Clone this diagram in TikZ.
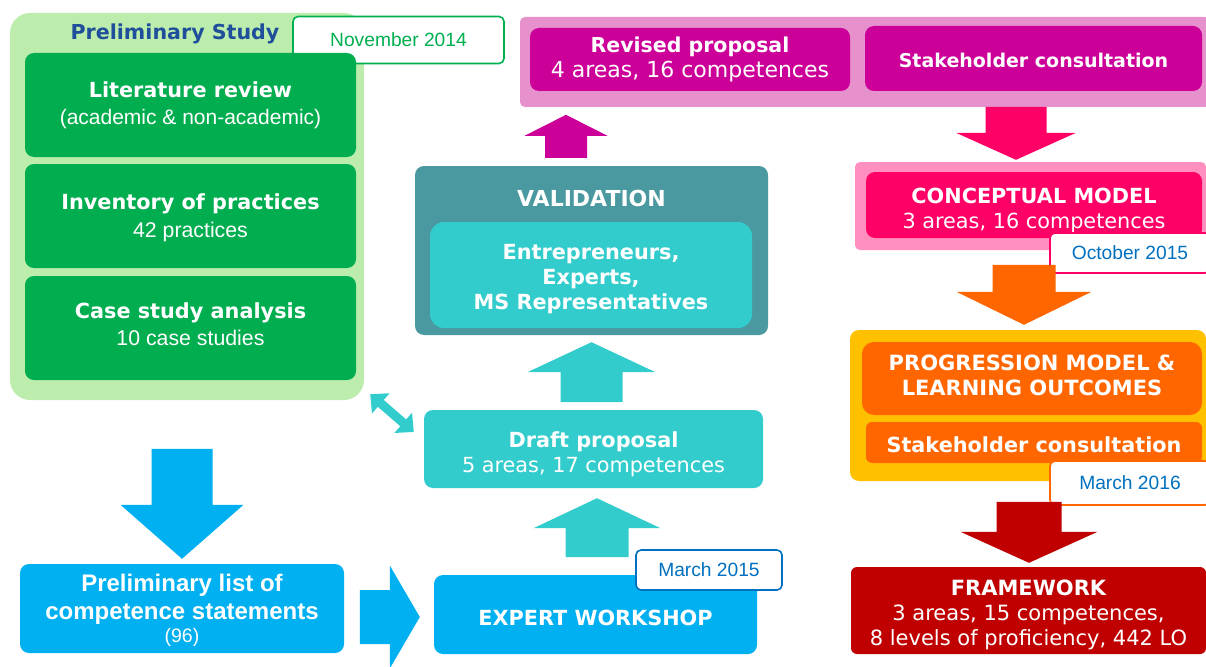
\documentclass[tikz,border=0pt]{standalone}
\usepackage{fontspec}
\setmainfont{DejaVu Sans}
\newfontfamily\arialfont{Liberation Sans}
\usetikzlibrary{calc,arrows.meta}
\definecolor{prelimbg}{HTML}{BDEDAD}
\definecolor{studygreen}{HTML}{00AD4F}
\definecolor{titleblue}{HTML}{1F4E9A}
\definecolor{listblue}{HTML}{00B0F0}
\definecolor{draftteal}{HTML}{33CCCC}
\definecolor{validgray}{HTML}{4A99A0}
\definecolor{revisedbg}{HTML}{E690CC}
\definecolor{revisedmag}{HTML}{CC0099}
\definecolor{conceptbg}{HTML}{FF8FBF}
\definecolor{conceptpink}{HTML}{FF0066}
\definecolor{progorange}{HTML}{FF6600}
\definecolor{progyellow}{HTML}{FFC000}
\definecolor{frameworkred}{HTML}{C00000}
\definecolor{dateblue}{HTML}{0070C0}
\definecolor{dategreen}{HTML}{00B050}
\newcommand{\dropline}[1]{\rule{0pt}{#1}}

\begin{document}
\begin{tikzpicture}[
  x=1pt,
  y=-1pt,
  line join=round,
  panel/.style={rounded corners=9pt,inner sep=0pt,align=center,text=white,
    font=\fontsize{20.8}{25}\selectfont},
  droptext/.style={execute at begin node={\rule{0pt}{#1}}},
  liftext/.style={execute at end node={\rule[-#1]{0pt}{#1}}},
  datebox/.style={fill=white,line width=1.6pt,rounded corners=5pt,inner sep=0pt,
    font=\arialfont\fontsize{19.2}{22}\selectfont},
  twoway/.style={draw=draftteal,line width=9pt,
    {Triangle[length=14pt,width=26pt]}-{Triangle[length=14pt,width=26pt]}}
]
  \newcommand{\drawblockarrow}[7]{%
    \fill[#1,shift={#2},rotate=#3] (0,0) -- (-#5,#7) -- (-#5,#6) -- (-#4,#6)
      -- (-#4,-#6) -- (-#5,-#6) -- (-#5,-#7) -- cycle;
  }
  \useasboundingbox (0,0) rectangle (1206,666);

  % Preliminary study column.
  \node[panel,fill=prelimbg,rounded corners=20pt,minimum width=354pt,minimum height=387pt] (prelim) at (187,206.5) {};
  \node[text=titleblue,font=\fontsize{20.6}{24}\selectfont\bfseries] (prelimtitle) at (175,34) {Preliminary Study};
  \node[datebox,draw=dategreen,text=dategreen,minimum width=211pt,minimum height=47pt] (nov) at (398.5,40) {November 2014};
  \node[panel,fill=studygreen,minimum width=331pt,minimum height=104pt,font=\fontsize{20.8}{27}\selectfont] (lit) at (190.5,105)
    {{\bfseries Literature review}\\{\arialfont\fontsize{21}{27}\selectfont (academic \& non-academic)}};
  \node[panel,fill=studygreen,minimum width=331pt,minimum height=104pt,font=\fontsize{20.8}{28}\selectfont] (inv) at (190.5,216)
    {{\dropline{19pt}\bfseries Inventory of practices}\\{\arialfont\fontsize{21.3}{28}\selectfont 42 practices}};
  \node[panel,fill=studygreen,liftext=8pt,minimum width=331pt,minimum height=104pt,font=\fontsize{20.8}{27}\selectfont] (case) at (190.5,328)
    {{\bfseries Case study analysis}\\{\arialfont\fontsize{21.3}{27}\selectfont 10 case studies}};

  % Bottom row.
  \node[panel,fill=listblue,minimum width=324pt,minimum height=89pt,font=\arialfont\fontsize{24}{28}\selectfont\bfseries] (list) at (182,608.5)
    {\dropline{22pt}Preliminary list of\\competence statements\\[-5pt]{\mdseries\fontsize{19.5}{20}\selectfont (96)}};
  \node[panel,fill=listblue,droptext=23pt,minimum width=323pt,minimum height=79pt,font=\fontsize{20.8}{25}\selectfont\bfseries] (expert) at (595.5,614.5) {EXPERT WORKSHOP};
  \node[datebox,draw=dateblue,text=dateblue,minimum width=146pt,minimum height=40pt] (mar15) at (709,570) {March 2015};

  % Middle column.
  \node[panel,fill=draftteal,minimum width=339pt,minimum height=78pt] (draft) at (593.5,449)
    {{\dropline{26pt}\bfseries Draft proposal}\\5 areas, 17 competences};
  \node[panel,fill=validgray,minimum width=353pt,minimum height=169pt] (valout) at (591.5,250.5) {};
  \node[text=white,font=\fontsize{22}{26}\selectfont\bfseries] (valtitle) at (591.5,198) {VALIDATION};
  \node[panel,fill=draftteal,rounded corners=14pt,minimum width=322pt,minimum height=106pt,font=\fontsize{20.8}{25}\selectfont\bfseries] (valin) at (591,275)
    {\dropline{23pt}Entrepreneurs,\\Experts,\\MS Representatives};

  % Top band.
  \node[panel,fill=revisedbg,rounded corners=5pt,minimum width=690pt,minimum height=90pt] (band) at (865,62) {};
  \node[panel,fill=revisedmag,minimum width=320pt,minimum height=63pt,font=\fontsize{20.5}{25}\selectfont] (revised) at (690,59.5)
    {{\bfseries Revised proposal}\\{\fontsize{22}{25}\selectfont 4 areas, 16 competences}};
  \node[panel,fill=revisedmag,droptext=18.5pt,minimum width=337pt,minimum height=65pt,font=\fontsize{19}{24}\selectfont\bfseries] (stakeA) at (1033.5,58.5) {Stakeholder consultation};

  % Right column.
  \node[panel,fill=conceptbg,rounded corners=5pt,minimum width=351pt,minimum height=88pt] (conceptout) at (1030.5,206) {};
  \node[panel,fill=conceptpink,minimum width=336pt,minimum height=66pt] (concept) at (1034,205)
    {{\dropline{27pt}\bfseries CONCEPTUAL MODEL}\\3 areas, 16 competences};
  \node[datebox,draw=conceptpink,text=dateblue,minimum width=160pt,minimum height=40pt] (oct) at (1130,253) {October 2015};

  \node[panel,fill=progyellow,minimum width=356pt,minimum height=151pt] (progout) at (1028,405.5) {};
  \node[panel,fill=progorange,liftext=6pt,rounded corners=12pt,minimum width=340pt,minimum height=73pt,font=\fontsize{21}{25}\selectfont\bfseries] (prog) at (1032,378.5)
    {PROGRESSION MODEL \&\\LEARNING OUTCOMES};
  \node[panel,fill=progorange,droptext=20pt,rounded corners=6pt,minimum width=336pt,minimum height=41pt,font=\fontsize{20.8}{25}\selectfont\bfseries] (stakeB) at (1034,442.5) {Stakeholder consultation};
  \node[datebox,draw=progorange,text=dateblue,minimum width=160pt,minimum height=44pt] (mar16) at (1130,483) {March 2016};

  \node[panel,fill=frameworkred,rounded corners=6pt,minimum width=355pt,minimum height=87pt,font=\fontsize{21}{25}\selectfont] (frame) at (1028.5,610.5)
    {{\dropline{25pt}\bfseries FRAMEWORK}\\3 areas, 15 competences,\\8 levels of proficiency, 442 LO};

  % Block arrows between the stages.
  \drawblockarrow{listblue}{($(list.north)+(0,-5)$)}{-90}{110}{54}{30.5}{61.5}
  \drawblockarrow{listblue}{($(expert.west)+(-14,2.5)$)}{0}{60}{30}{27}{51.5}
  \drawblockarrow{draftteal}{($(draft.south)+(3.5,10)$)}{90}{59}{30}{31.5}{63.5}
  \drawblockarrow{draftteal}{($(valout.south)+(0,7)$)}{90}{60}{30}{31}{64}
  \drawblockarrow{revisedmag}{($(valout.north)+(-25.5,-51)$)}{90}{43}{21}{21}{41.5}
  \drawblockarrow{conceptpink}{($(conceptout.north)+(-14.5,-2)$)}{-90}{53}{27}{30.5}{60}
  \drawblockarrow{progorange}{($(progout.north)+(-4,-5)$)}{-90}{60}{33}{31.5}{67.5}
  \drawblockarrow{frameworkred}{($(frame.north)+(0.5,-4)$)}{-90}{61}{31}{32.5}{68.5}
  \draw[twoway] ($(prelim.south east)+(6,-6)$) -- ($(draft.west)+(-10,-17)$);
\end{tikzpicture}
\end{document}
